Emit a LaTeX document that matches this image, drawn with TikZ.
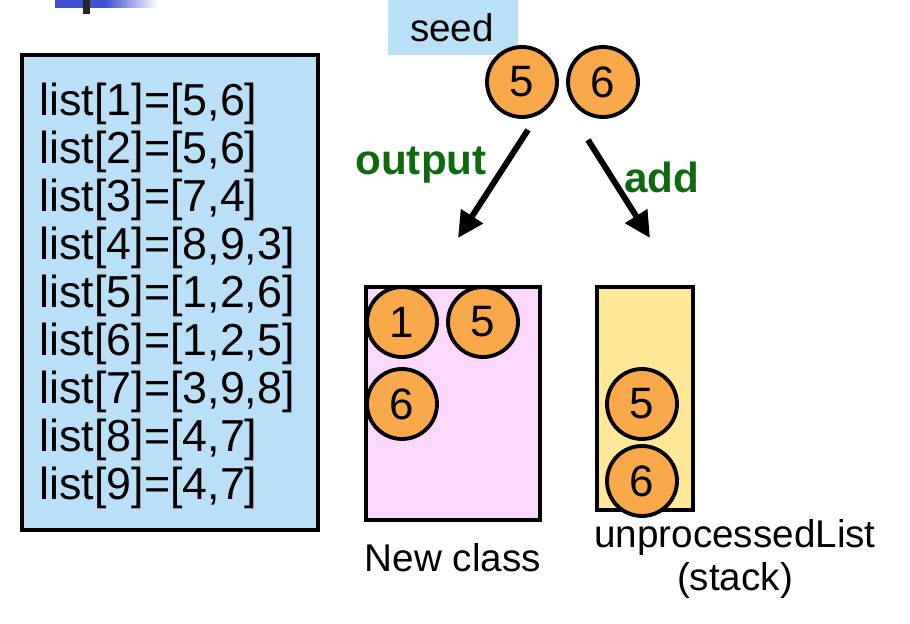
\documentclass[tikz,border=0pt]{standalone}
\usepackage{fontspec}
\setmainfont{Liberation Sans}
\usetikzlibrary{arrows.meta, positioning}
\definecolor{listblue}{HTML}{BAE0F8}
\definecolor{classpink}{HTML}{FCD8FC}
\definecolor{stackyellow}{HTML}{FFE898}
\definecolor{ballorange}{HTML}{F9A94A}
\definecolor{labelgreen}{HTML}{0D6A0D}
\definecolor{barblue}{HTML}{4050D0}
\begin{document}
\begin{tikzpicture}[
  x=0.02cm, y=-0.02cm,
  txt/.style={font=\fontsize{22}{26}\selectfont, inner sep=0pt},
  ball/.style={circle, draw, line width=2.2pt, fill=ballorange, minimum size=1.4cm, inner sep=0pt, font=\fontsize{25}{28}\selectfont},
  bin/.style={draw, line width=2.2pt, inner sep=0pt},
  lbl/.style={font=\fontsize{24}{28}\selectfont\bfseries, text=labelgreen},
  arr/.style={line width=3.4pt, -{Triangle[length=0.52cm, width=0.5cm]}}
]
  \useasboundingbox (0,0) rectangle (910,624);

  % slide decoration
  \fill[barblue] (55,0) rectangle (105,8);
  \shade[left color=barblue, right color=white] (105,0) rectangle (158,8);
  \fill[black!85] (83,0) rectangle (90,14);

  % adjacency list
  \node[bin, line width=1.8pt, fill=listblue, minimum width=5.92cm, minimum height=9.5cm] (lists) at (170,292.5) {};
  \node[text width=5.5cm, inner sep=0pt, align=left, font=\fontsize{25.5}{27.3}\selectfont]
        (listtext) at (177,296)
        {list[1]=[5,6]\\ list[2]=[5,6]\\ list[3]=[7,4]\\ list[4]=[8,9,3]\\ list[5]=[1,2,6]\\
         list[6]=[1,2,5]\\ list[7]=[3,9,8]\\ list[8]=[4,7]\\ list[9]=[4,7]};

  % seed
  \node[fill=listblue, minimum width=2.6cm, minimum height=1.1cm] (seedbox) at (453,27.5) {};
  \node[txt] (seed) at (452,28) {seed};
  \node[ball] (s5) at (522,82) {5};
  \node[ball] (s6) at (603,82) {6};

  % new class
  \node[bin, fill=classpink, minimum width=3.48cm, minimum height=4.66cm] (newclass) at (453,403.5) {};
  \node[ball] (c1) at (402,322) {1};
  \node[ball] (c5) at (483,322) {5};
  \node[ball] (c6) at (402,404) {6};
  \node[txt, below=0.42cm of newclass] (classname) {New class};

  % stack
  \node[bin, fill=stackyellow, minimum width=1.92cm, minimum height=4.46cm] (stack) at (645,398.5) {};
  \node[ball] (k5) at (642,404) {5};
  \node[ball] (k6) at (642,481) {6};
  \node[txt, align=center, font=\fontsize{22}{24.4}\selectfont] (stackname) at (735,559) {unprocessedList\\(stack)};

  % arrows
  \coordinate (outtip) at (458,238);
  \coordinate (addtip) at (650,238);
  \draw[arr] ([shift={(6,11)}]s5.south) -- (outtip);
  \draw[arr] ([shift={(-15,21)}]s6.south) -- (addtip);
  \node[lbl] (output) at (421,165) {output};
  \node[lbl] (add) at (662,177) {add};
\end{tikzpicture}
\end{document}
